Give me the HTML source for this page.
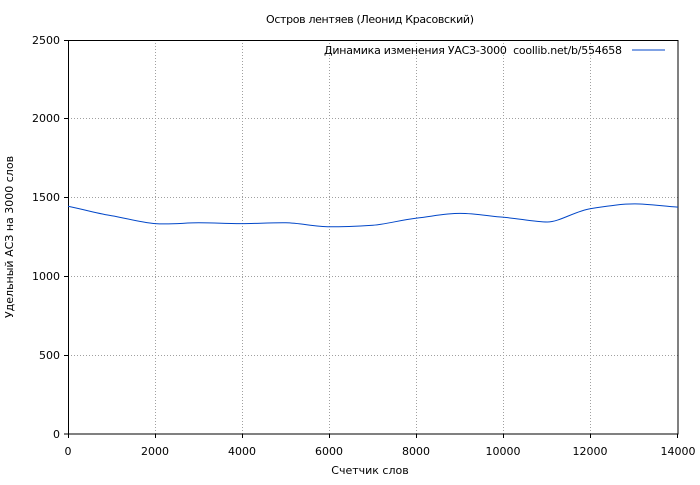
<!DOCTYPE html>
<html><head><meta charset="utf-8"><style>
body{margin:0;background:#fff}
svg text{font-family:"DejaVu Sans","Liberation Sans",sans-serif;font-size:11px;fill:#000}
</style></head><body>
<svg width="700" height="480" xmlns="http://www.w3.org/2000/svg">
<rect width="700" height="480" fill="#fff"/>
<g stroke="#a0a0a0" stroke-width="1" stroke-dasharray="1,2">
<line x1="155.5" y1="40" x2="155.5" y2="434"/><line x1="242.5" y1="40" x2="242.5" y2="434"/>
<line x1="329.5" y1="40" x2="329.5" y2="434"/><line x1="416.5" y1="40" x2="416.5" y2="434"/>
<line x1="503.5" y1="40" x2="503.5" y2="434"/><line x1="590.5" y1="40" x2="590.5" y2="434"/>
<line x1="68" y1="355.5" x2="678" y2="355.5"/><line x1="68" y1="276.5" x2="678" y2="276.5"/>
<line x1="68" y1="197.5" x2="678" y2="197.5"/><line x1="68" y1="118.5" x2="678" y2="118.5"/>
</g>
<rect x="68.5" y="40.5" width="609.5" height="393.5" fill="none" stroke="#000"/>
<g stroke="#000">
<line x1="68.5" y1="434" x2="68.5" y2="438"/><line x1="155.5" y1="434" x2="155.5" y2="438"/>
<line x1="242.5" y1="434" x2="242.5" y2="438"/><line x1="329.5" y1="434" x2="329.5" y2="438"/>
<line x1="416.5" y1="434" x2="416.5" y2="438"/><line x1="503.5" y1="434" x2="503.5" y2="438"/>
<line x1="590.5" y1="434" x2="590.5" y2="438"/><line x1="677.5" y1="434" x2="677.5" y2="438"/>
<line x1="64" y1="434" x2="68" y2="434"/><line x1="64" y1="355.5" x2="68" y2="355.5"/>
<line x1="64" y1="276.5" x2="68" y2="276.5"/><line x1="64" y1="197.5" x2="68" y2="197.5"/>
<line x1="64" y1="118.5" x2="68" y2="118.5"/><line x1="64" y1="40.5" x2="68" y2="40.5"/>
</g>
<g text-anchor="middle">
<text x="68" y="455">0</text><text x="155" y="455">2000</text><text x="242" y="455">4000</text>
<text x="329" y="455">6000</text><text x="416" y="455">8000</text><text x="503" y="455">10000</text>
<text x="590" y="455">12000</text><text x="678" y="455">14000</text>
<text x="370" y="474">Счетчик слов</text>
<text x="370" y="23" textLength="208">Остров лентяев (Леонид Красовский)</text>
</g>
<g text-anchor="end">
<text x="60" y="438">0</text><text x="60" y="359">500</text><text x="60" y="280">1000</text>
<text x="60" y="201">1500</text><text x="60" y="122">2000</text><text x="60" y="44">2500</text>
</g>
<text x="324" y="54" textLength="298">Динамика изменения УАСЗ-3000&#160;&#160;coollib.net/b/554658</text>
<text transform="translate(13,237) rotate(-90)" text-anchor="middle">Удельный АСЗ на 3000 слов</text>
<line x1="632" y1="50" x2="665" y2="50" stroke="#0046c8"/>
<path fill="none" stroke="#0046c8" stroke-width="1" d="M68,206.3 C90,211 100,214 111.6,215.7 S140,222.5 155.1,223.6 S185,222.8 198.7,222.8 S230,223.6 242.3,223.6 S272,222.6 285.9,222.8 S315,226.8 329.4,226.8 S360,226 373,225.2 S400,220 416.6,218.1 S445,213.4 460.1,213.4 S490,216.3 503.7,217.3 S535,222 547.3,222 S575,211 590.9,208.6 S620,203.9 634.4,203.9 S665,206.5 678,207.1"/>
</svg>
</body></html>
